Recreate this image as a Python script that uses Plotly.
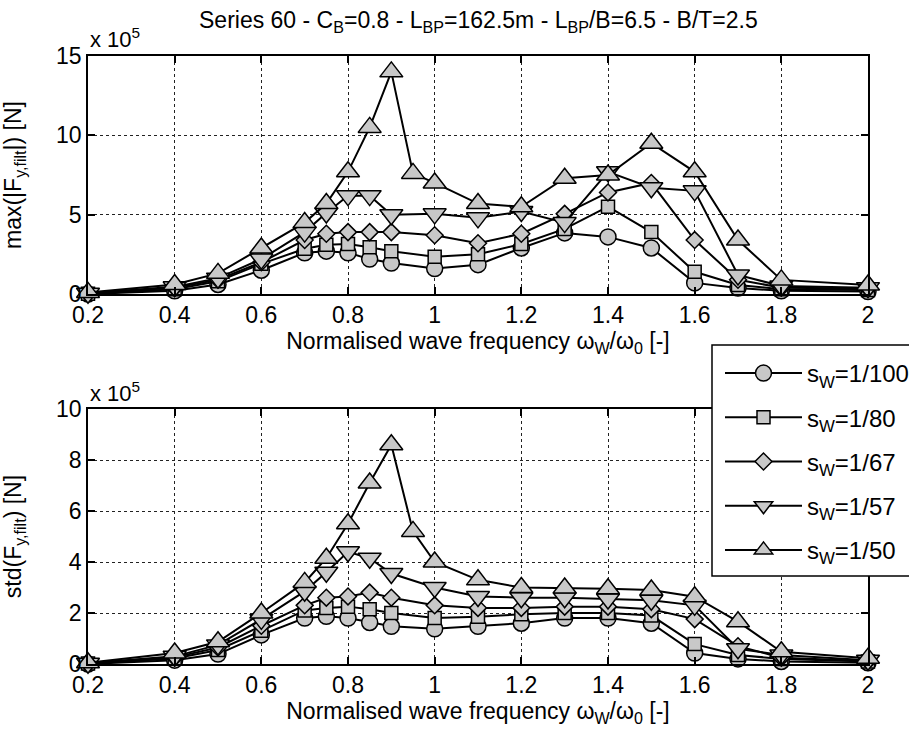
import plotly.graph_objects as go

# Normalised wave frequency omega_W / omega_0
freq = [0.2, 0.4, 0.5, 0.6, 0.7, 0.75, 0.8, 0.85, 0.9, 0.95, 1.0, 1.1, 1.2, 1.3, 1.4, 1.5, 1.6, 1.7, 1.8, 2.0]

# Series names (wave steepness)
series_names = ["s<sub>W</sub>=1/100", "s<sub>W</sub>=1/80", "s<sub>W</sub>=1/67",
                "s<sub>W</sub>=1/57", "s<sub>W</sub>=1/50"]
series_symbols = ["circle", "square", "diamond", "triangle-down", "triangle-up"]

# max(|F_y,filt|) in units of 1e5 N
max_s100 = [0.0, 0.2, 0.6, 1.5, 2.6, 2.7, 2.6, 2.2, 1.95, None, 1.6, 1.85, 2.9, 3.85, 3.6, 2.9, 0.7, 0.38, 0.2, 0.15]
max_s80 = [0.02, 0.3, 0.8, 1.9, 2.85, 3.1, 3.15, 2.95, 2.7, None, 2.35, 2.5, 3.15, 4.1, 5.5, 3.9, 1.4, 0.57, 0.3, 0.25]
max_s67 = [0.05, 0.4, 0.9, 2.0, 3.4, 3.8, 3.9, 3.9, 3.9, None, 3.7, 3.2, 3.8, 5.05, 6.4, 7.0, 3.4, 0.9, 0.4, 0.35]
max_s57 = [0.05, 0.45, 1.0, 2.2, 3.9, 5.1, 6.2, 6.2, 5.0, None, 5.05, 4.8, 5.2, 4.5, 7.7, 6.7, 6.5, 1.2, 0.5, 0.4]
max_s50 = [0.1, 0.6, 1.3, 2.9, 4.5, 5.7, 7.7, 10.5, 14.0, 7.6, 7.0, 5.7, 5.5, 7.3, 7.5, 9.5, 7.7, 3.4, 0.89, 0.57]

# std(F_y,filt) in units of 1e5 N
std_s100 = [0.0, 0.15, 0.39, 1.14, 1.8, 1.87, 1.8, 1.63, 1.48, None, 1.38, 1.48, 1.6, 1.8, 1.8, 1.6, 0.43, 0.2, 0.1, 0.05]
std_s80 = [0.02, 0.22, 0.55, 1.3, 2.1, 2.2, 2.25, 2.15, 2.0, None, 1.8, 1.85, 1.95, 2.0, 2.0, 1.9, 0.78, 0.35, 0.2, 0.1]
std_s67 = [0.03, 0.26, 0.65, 1.5, 2.3, 2.6, 2.65, 2.8, 2.6, None, 2.3, 2.2, 2.2, 2.25, 2.25, 2.15, 1.76, 0.7, 0.25, 0.12]
std_s57 = [0.03, 0.3, 0.75, 1.75, 2.85, 3.6, 4.4, 4.15, 3.55, None, 3.0, 2.65, 2.6, 2.6, 2.55, 2.5, 2.3, 0.6, 0.35, 0.15]
std_s50 = [0.05, 0.43, 0.87, 2.0, 3.2, 4.15, 5.5, 7.1, 8.6, 5.2, 4.0, 3.3, 3.0, 2.98, 2.95, 2.9, 2.64, 1.66, 0.48, 0.23]

max_series = [max_s100, max_s80, max_s67, max_s57, max_s50]
std_series = [std_s100, std_s80, std_s67, std_s57, std_s50]

x_tickvals = [0.2, 0.4, 0.6, 0.8, 1.0, 1.2, 1.4, 1.6, 1.8, 2.0]
x_ticktext = ["0.2", "0.4", "0.6", "0.8", "1", "1.2", "1.4", "1.6", "1.8", "2"]
top_ticks = [0, 5, 10, 15]
bot_ticks = [0, 2, 4, 6, 8, 10]

FONT = "Liberation Sans, Arial, Helvetica, sans-serif"
FILL = "#c8c8c8"
SIZES = {"circle": 16, "square": 13, "diamond": 13, "triangle-down": 20, "triangle-up": 20}

# layout geometry (pixels in the 909x735 page)
ML, MR, MT, MB = 88, 41, 56, 71
PW, PH = 909 - ML - MR, 735 - MT - MB


def px_x(px):
    return (px - ML) / PW


def px_y(py):
    return (735 - MB - py) / PH


fig = go.Figure()

for i, name in enumerate(series_names):
    sym = series_symbols[i]
    marker = dict(symbol=sym, size=SIZES[sym], color=FILL, line=dict(color="black", width=1.5))
    fig.add_trace(go.Scatter(
        x=freq, y=max_series[i], mode="lines+markers", name=name,
        line=dict(color="black", width=2), marker=marker, connectgaps=True,
        cliponaxis=False, legendgroup=name, showlegend=True,
        xaxis="x", yaxis="y"))
    fig.add_trace(go.Scatter(
        x=freq, y=std_series[i], mode="lines+markers", name=name,
        line=dict(color="black", width=2), marker=marker, connectgaps=True,
        cliponaxis=False, legendgroup=name, showlegend=False,
        xaxis="x2", yaxis="y2"))

axis_common = dict(
    showline=True, linecolor="black", linewidth=1.5, mirror="ticks",
    ticks="inside", ticklen=7, tickwidth=1.5, tickcolor="black",
    showgrid=True, gridcolor="#222", griddash="dot", gridwidth=1,
    zeroline=False, tickfont=dict(family=FONT, size=23, color="black"),
)

xtitle = "Normalised wave frequency ω<sub>W</sub>/ω<sub>0</sub> [-]"

TOP_DOM = [px_y(294), 1.0]
BOT_DOM = [0.0, px_y(409)]

fig.update_layout(
    width=909, height=735,
    margin=dict(l=ML, r=MR, t=MT, b=MB, autoexpand=False),
    paper_bgcolor="white", plot_bgcolor="white",
    font=dict(family=FONT, size=23, color="black"),
    xaxis=dict(axis_common, domain=[0, 1], range=[0.2, 2.0], anchor="y",
               tickvals=x_tickvals, ticktext=x_ticktext,
               title=dict(text=xtitle, font=dict(size=23), standoff=6)),
    yaxis=dict(axis_common, domain=TOP_DOM, range=[0, 15], anchor="x",
               tickvals=top_ticks,
               title=dict(text="max(|F<sub>y,filt</sub>|) [N]", font=dict(size=23), standoff=28)),
    xaxis2=dict(axis_common, domain=[0, 1], range=[0.2, 2.0], anchor="y2",
                tickvals=x_tickvals, ticktext=x_ticktext,
                title=dict(text=xtitle, font=dict(size=23), standoff=6)),
    yaxis2=dict(axis_common, domain=BOT_DOM, range=[0, 10], anchor="x2",
                tickvals=bot_ticks,
                title=dict(text="std(F<sub>y,filt</sub>) [N]", font=dict(size=23), standoff=28)),
    legend=dict(x=px_x(720), y=px_y(351), xanchor="left", yanchor="top", xref="paper", yref="paper",
                bgcolor="rgba(0,0,0,0)", borderwidth=0,
                font=dict(family=FONT, size=24), tracegroupgap=10, itemwidth=77),
    showlegend=True,
    shapes=[
        dict(type="rect", xref="paper", yref="paper",
             x0=px_x(712), x1=px_x(915), y0=px_y(576), y1=px_y(345),
             fillcolor="white", line=dict(color="black", width=1.5), layer="above"),
    ],
    annotations=[
        dict(text="Series 60 - C<sub>B</sub>=0.8 - L<sub>BP</sub>=162.5m - L<sub>BP</sub>/B=6.5 - B/T=2.5",
             xref="paper", yref="paper", x=0.5, y=px_y(22), xanchor="center", yanchor="middle",
             showarrow=False, font=dict(family=FONT, size=23)),
        dict(text="x 10<sup>5</sup>", xref="paper", yref="paper", x=0.0, y=px_y(38),
             xanchor="left", yanchor="middle", showarrow=False, font=dict(family=FONT, size=22)),
        dict(text="x 10<sup>5</sup>", xref="paper", yref="paper", x=0.0, y=px_y(392),
             xanchor="left", yanchor="middle", showarrow=False, font=dict(family=FONT, size=22)),
    ],
)

fig.write_html("out.html")
